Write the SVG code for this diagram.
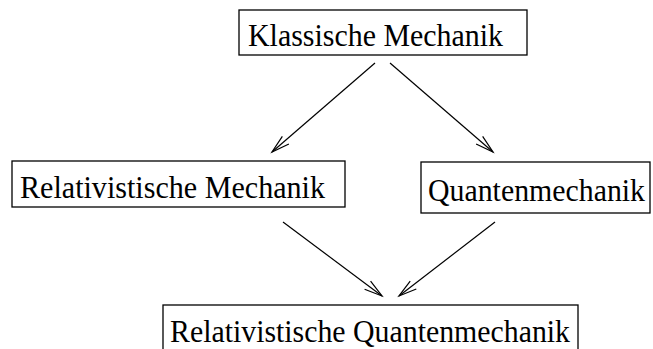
<svg xmlns="http://www.w3.org/2000/svg" width="653" height="349" viewBox="0 0 653 349">
<style>
.box{fill:#fff;stroke:#000;stroke-width:1.3}
.lbl{font-family:"Liberation Serif","Times New Roman",serif;font-size:31px;fill:#000}
.edge{stroke:#000;stroke-width:1.2;fill:none}
</style>
<defs>
<marker id="ah" markerUnits="userSpaceOnUse" markerWidth="40" markerHeight="40" refX="0" refY="0" viewBox="-20 -20 40 40" orient="auto" overflow="visible">
<path d="M-18,-5 L0,0 L-18,5" fill="none" stroke="#000" stroke-width="1.2"/>
</marker>
</defs>
<rect width="653" height="349" fill="#fff"/>
<g id="n1">
<rect class="box" x="239" y="10" width="288" height="45"/>
<text class="lbl" x="248" y="46" textLength="255" lengthAdjust="spacingAndGlyphs">Klassische Mechanik</text>
</g>
<g id="n2">
<rect class="box" x="12" y="161" width="333" height="46"/>
<text class="lbl" x="20" y="198" textLength="305" lengthAdjust="spacingAndGlyphs">Relativistische Mechanik</text>
</g>
<g id="n3">
<rect class="box" x="421" y="162" width="229" height="51"/>
<text class="lbl" x="428" y="201" textLength="217" lengthAdjust="spacingAndGlyphs">Quantenmechanik</text>
</g>
<g id="n4">
<rect class="box" x="163" y="305" width="415" height="60"/>
<text class="lbl" x="170" y="342" textLength="400" lengthAdjust="spacingAndGlyphs">Relativistische Quantenmechanik</text>
</g>
<g id="edges">
<line class="edge" x1="375" y1="63" x2="272" y2="152" marker-end="url(#ah)"/>
<line class="edge" x1="390" y1="63" x2="493" y2="152" marker-end="url(#ah)"/>
<line class="edge" x1="283" y1="222" x2="382" y2="296" marker-end="url(#ah)"/>
<line class="edge" x1="495" y1="222" x2="399" y2="296" marker-end="url(#ah)"/>
</g>
</svg>
